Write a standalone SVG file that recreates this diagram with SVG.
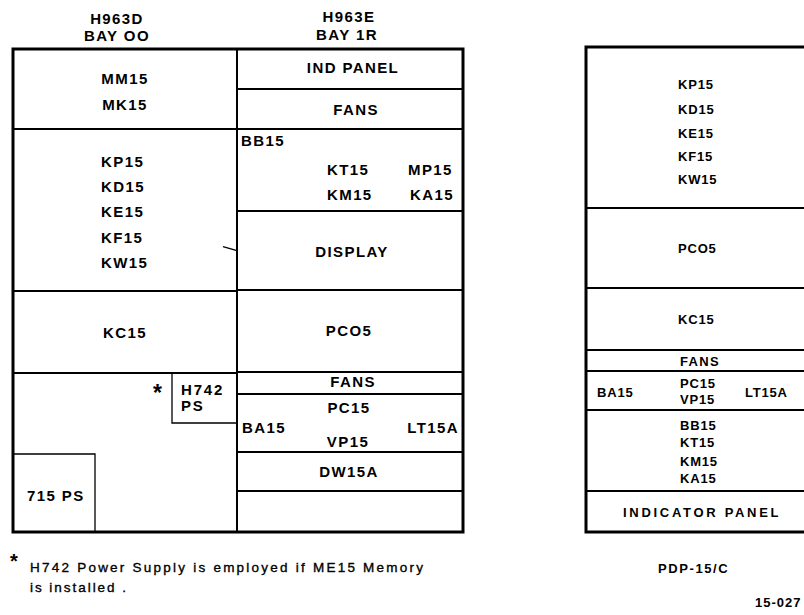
<svg xmlns="http://www.w3.org/2000/svg" width="804" height="615" viewBox="0 0 804 615">
<style>
.outer{fill:none;stroke:#000;stroke-width:3}
.ln{fill:none;stroke:#000;stroke-width:2}
.thin{fill:none;stroke:#000;stroke-width:1.3}
.t{font-family:"Liberation Sans",Arial,sans-serif;font-weight:bold;font-size:15px;letter-spacing:1.4px;fill:#000}
.m{text-anchor:middle}
.e{text-anchor:end}
.r{font-family:"Liberation Sans",Arial,sans-serif;font-weight:bold;font-size:13px;letter-spacing:0.8px;fill:#000}
.f{font-family:"Liberation Sans",Arial,sans-serif;font-size:13.5px;fill:#000;stroke:#000;stroke-width:0.35}
.ast{font-family:"Liberation Sans",Arial,sans-serif;font-weight:bold;fill:#000}
</style>
<rect width="804" height="615" fill="#fff"/>
<g id="headers">
<text class="t m" x="117" y="24">H963D</text>
<text class="t m" x="117" y="41">BAY OO</text>
<text class="t m" x="349" y="22">H963E</text>
<text class="t m" x="347" y="40">BAY 1R</text>
</g>
<g id="cabinet-left">
<rect class="outer" x="13" y="49" width="450" height="483"/>
<line class="ln" x1="237" y1="49" x2="237" y2="532"/>
<line class="ln" x1="13" y1="129" x2="237" y2="129"/>
<line class="ln" x1="13" y1="291" x2="237" y2="291"/>
<line class="ln" x1="13" y1="373" x2="237" y2="373"/>
<line class="ln" x1="237" y1="89" x2="463" y2="89"/>
<line class="ln" x1="237" y1="129" x2="463" y2="129"/>
<line class="ln" x1="237" y1="211" x2="463" y2="211"/>
<line class="ln" x1="237" y1="290" x2="463" y2="290"/>
<line class="ln" x1="237" y1="372" x2="463" y2="372"/>
<line class="ln" x1="237" y1="394" x2="463" y2="394"/>
<line class="ln" x1="237" y1="452" x2="463" y2="452"/>
<line class="ln" x1="237" y1="491" x2="463" y2="491"/>
<polyline class="thin" points="172,373 172,423 237,423"/>
<polyline class="thin" points="13,454 95,454 95,532"/>
<line class="thin" x1="223" y1="246.7" x2="237" y2="250.7"/>
</g>
<g id="left-labels">
<text class="t m" x="125" y="84">MM15</text>
<text class="t m" x="125" y="110">MK15</text>
<text class="t" x="101" y="167">KP15</text>
<text class="t" x="101" y="192">KD15</text>
<text class="t" x="101" y="217">KE15</text>
<text class="t" x="101" y="243">KF15</text>
<text class="t" x="101" y="268">KW15</text>
<text class="t m" x="125" y="338">KC15</text>
<text class="ast" x="153" y="401" font-size="23">*</text>
<text class="t" x="181" y="395" font-size="14" style="letter-spacing:1.8px">H742</text>
<text class="t" x="181" y="411" font-size="14" style="letter-spacing:1.8px">PS</text>
<text class="t" x="27" y="501">715 PS</text>
<text class="t m" x="353" y="73">IND PANEL</text>
<text class="t m" x="356" y="115">FANS</text>
<text class="t" x="241" y="146">BB15</text>
<text class="t" x="327" y="175">KT15</text>
<text class="t" x="408" y="175">MP15</text>
<text class="t" x="327" y="200">KM15</text>
<text class="t" x="410" y="200">KA15</text>
<text class="t m" x="352" y="257">DISPLAY</text>
<text class="t m" x="349" y="336">PCO5</text>
<text class="t m" x="353" y="387">FANS</text>
<text class="t m" x="349" y="413">PC15</text>
<text class="t" x="242" y="433">BA15</text>
<text class="t e" x="459" y="433">LT15A</text>
<text class="t m" x="348" y="447">VP15</text>
<text class="t m" x="349" y="477">DW15A</text>
</g>
<g id="cabinet-right">
<path class="outer" d="M 810 47 H 586 V 532 H 810"/>
<line class="ln" x1="586" y1="208" x2="804" y2="208"/>
<line class="ln" x1="586" y1="288" x2="804" y2="288"/>
<line class="ln" x1="586" y1="350" x2="804" y2="350"/>
<line class="ln" x1="586" y1="371" x2="804" y2="371"/>
<line class="ln" x1="586" y1="410" x2="804" y2="410"/>
<line class="ln" x1="586" y1="491" x2="804" y2="491"/>
</g>
<g id="right-labels">
<text class="r" x="678" y="89">KP15</text>
<text class="r" x="678" y="114">KD15</text>
<text class="r" x="678" y="138">KE15</text>
<text class="r" x="678" y="161">KF15</text>
<text class="r" x="678" y="184">KW15</text>
<text class="r" x="678" y="253">PCO5</text>
<text class="r" x="678" y="324">KC15</text>
<text class="r" x="680" y="366" style="letter-spacing:1.3px">FANS</text>
<text class="r" x="597" y="397">BA15</text>
<text class="r" x="680" y="388">PC15</text>
<text class="r" x="680" y="404">VP15</text>
<text class="r" x="745" y="397">LT15A</text>
<text class="r" x="680" y="430">BB15</text>
<text class="r" x="680" y="447">KT15</text>
<text class="r" x="680" y="466">KM15</text>
<text class="r" x="680" y="483">KA15</text>
<text class="r" x="623" y="517" style="letter-spacing:2.7px">INDICATOR  PANEL</text>
<text class="r" x="658" y="573" font-size="14" style="letter-spacing:1.6px">PDP-15/C</text>
<text class="r" x="755" y="607" font-size="11.5" style="letter-spacing:1px">15-027</text>
</g>
<g id="footnote">
<text class="ast" x="10" y="568" font-size="20">*</text>
<text class="f" x="30" y="572" textLength="393" lengthAdjust="spacing">H742 Power Supply is employed if  ME15 Memory</text>
<text class="f" x="30" y="592" textLength="96" lengthAdjust="spacing">is installed .</text>
</g>
</svg>
